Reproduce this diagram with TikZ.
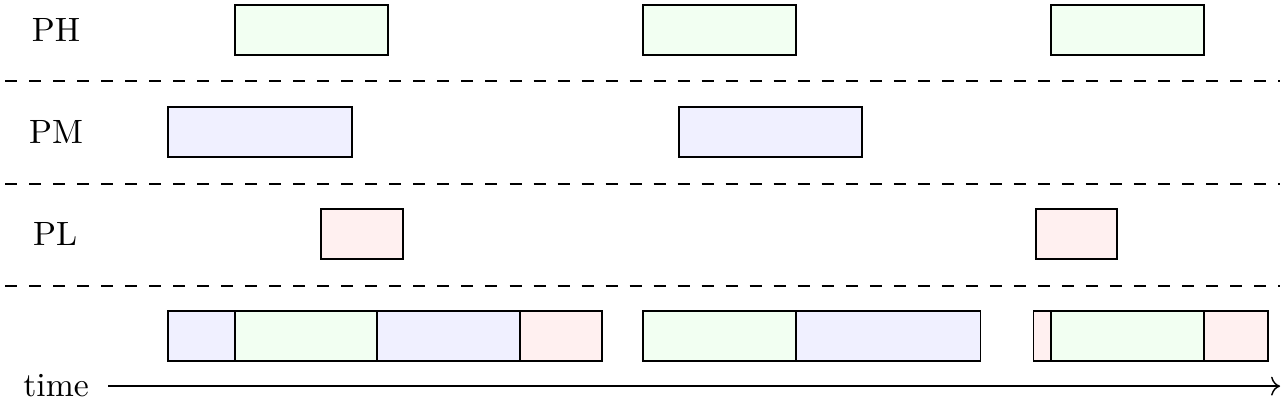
\documentclass[tikz,border=0pt]{standalone}
\usetikzlibrary{arrows.meta}
\begin{document}
\begin{tikzpicture}[line width=0.8pt,
    lbl/.style={inner sep=0pt},
    hbox/.style={draw, fill=green!5},
    mbox/.style={draw, fill=blue!6},
    lbox/.style={draw, fill=red!6},
    sep/.style={dash pattern=on 6.7pt off 6.7pt}]
      \useasboundingbox (0, 0) rectangle (25.196, 7.902);
      % task labels
      \node[lbl] (ph) at (1.1, 7.31) {\scalebox{1.88}{PH}};
      \node[lbl] (pm) at (1.1, 5.31) {\scalebox{1.88}{PM}};
      \node[lbl] (pl) at (1.08, 3.31) {\scalebox{1.88}{PL}};
      % PH
      \path[hbox](4.61, 6.82) rectangle (7.61, 7.80);
      \path[hbox](12.61, 6.82) rectangle (15.61, 7.80);
      \path[hbox](20.61, 6.82) rectangle (23.61, 7.80);
      \draw[sep](0.1, 6.31)--(25.1, 6.31);
      % PM
      \path[mbox](3.29, 4.82) rectangle (6.90, 5.80);
      \path[mbox](13.31, 4.82) rectangle (16.90, 5.80);
      \draw[sep](0.1, 4.29)--(25.1, 4.29);
      % PL
      \path[lbox](6.29, 2.82) rectangle (7.90, 3.80);
      \path[lbox](20.31, 2.82) rectangle (21.90, 3.80);
      \draw[sep](0.1, 2.29)--(25.1, 2.29);
      % schedule
      \path[mbox](3.29, 0.82) rectangle (5.10, 1.80);
      \path[hbox](4.61, 0.82) rectangle (7.61, 1.80);
      \path[mbox](7.39, 0.82) rectangle (10.20, 1.80);
      \path[lbox](10.20, 0.82) rectangle (11.80, 1.80);
      \path[hbox](12.61, 0.82) rectangle (15.61, 1.80);
      \path[mbox](15.61, 0.82) rectangle (19.22, 1.80);
      \path[lbox](20.27, 0.82) rectangle (20.75, 1.80);
      \path[hbox](20.61, 0.82) rectangle (23.61, 1.80);
      \path[lbox](23.61, 0.82) rectangle (24.86, 1.80);
      % time axis
      \node[lbl, anchor=base] (time) at (1.1, 0.12) {\scalebox{1.88}{time}};
      \coordinate (t0) at (2.12, 0.33);
      \coordinate (t1) at (25.1, 0.33);
      \draw[-{To[scale=1.5]}](t0)--(t1);
    \end{tikzpicture}
\end{document}
